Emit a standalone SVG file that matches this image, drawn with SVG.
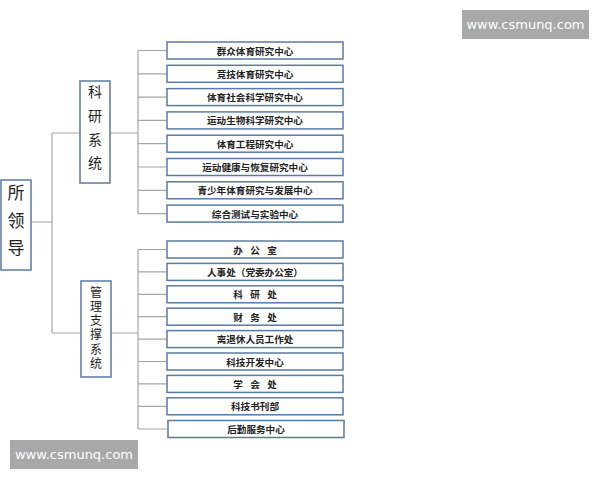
<svg xmlns="http://www.w3.org/2000/svg" width="600" height="480" viewBox="0 0 600 480">
<style>
.box{fill:#fff;stroke:#5b7aa1;stroke-width:1.5}
.ln{stroke:#a6a6a6;stroke-width:1.2;fill:none}
.t{font-family:"Noto Sans CJK SC","Noto Sans",sans-serif;font-size:9.6px;font-weight:bold;fill:#222;text-anchor:middle;dominant-baseline:central}
.v{font-family:"Noto Sans CJK SC","Noto Sans",sans-serif;fill:#222;writing-mode:vertical-rl;text-anchor:start}
.wm{fill:#a8a8a8}
.wt{font-family:"DejaVu Sans",sans-serif;font-size:13px;fill:#fff;text-anchor:middle;dominant-baseline:central}
</style>
<rect width="600" height="480" fill="#fff"/>
<g id="connectors">
<path class="ln" d="M31,222 H52 M52,133 V333 M52,133 H80 M52,333 H81"/>
<path class="ln" d="M110,133 H138 M138,50.5 V213.5"/>
<path class="ln" d="M138,50.5 H167 M138,73.8 H167 M138,97.1 H167 M138,120.4 H167 M138,143.7 H167 M138,167 H167 M138,190.3 H167 M138,213.6 H167"/>
<path class="ln" d="M111,333 H138 M138,249.5 V429"/>
<path class="ln" d="M138,249.5 H167 M138,271.9 H167 M138,294.3 H167 M138,316.7 H167 M138,339.1 H167 M138,361.5 H167 M138,383.9 H167 M138,406.3 H167 M138,429 H168"/>
</g>
<g id="leader"><rect class="box" x="1" y="180" width="30" height="90"/>
<text class="v" font-size="17" letter-spacing="10.5" x="16" y="184.5">所领导</text></g>
<g id="research"><rect class="box" x="80" y="81" width="30" height="102"/>
<text class="v" font-size="14" letter-spacing="9.7" x="95" y="85">科研系统</text></g>
<g id="management"><rect class="box" x="81" y="281" width="30" height="96"/>
<text class="v" font-size="12" letter-spacing="2.3" x="96" y="286">管理支撑系统</text></g>
<g id="r1"><rect class="box" x="167" y="42" width="176" height="17"/><text class="t" x="255" y="50.5">群众体育研究中心</text></g>
<g id="r2"><rect class="box" x="167" y="65.3" width="176" height="17"/><text class="t" x="255" y="73.8">竞技体育研究中心</text></g>
<g id="r3"><rect class="box" x="167" y="88.6" width="176" height="17"/><text class="t" x="255" y="97.1">体育社会科学研究中心</text></g>
<g id="r4"><rect class="box" x="167" y="111.9" width="176" height="17"/><text class="t" x="255" y="120.4">运动生物科学研究中心</text></g>
<g id="r5"><rect class="box" x="167" y="135.2" width="176" height="17"/><text class="t" x="255" y="143.7">体育工程研究中心</text></g>
<g id="r6"><rect class="box" x="167" y="158.5" width="176" height="17"/><text class="t" x="255" y="167">运动健康与恢复研究中心</text></g>
<g id="r7"><rect class="box" x="167" y="181.8" width="176" height="17"/><text class="t" x="255" y="190.3">青少年体育研究与发展中心</text></g>
<g id="r8"><rect class="box" x="167" y="205.1" width="176" height="17"/><text class="t" x="255" y="213.6">综合测试与实验中心</text></g>
<g id="m1"><rect class="box" x="167" y="241" width="176" height="17"/><text class="t" x="238 255 272" y="249.5">办公室</text></g>
<g id="m2"><rect class="box" x="167" y="263.4" width="176" height="17"/><text class="t" x="255" y="271.9">人事处（党委办公室）</text></g>
<g id="m3"><rect class="box" x="167" y="285.8" width="176" height="17"/><text class="t" x="238 255 272" y="294.3">科研处</text></g>
<g id="m4"><rect class="box" x="167" y="308.2" width="176" height="17"/><text class="t" x="238 255 272" y="316.7">财务处</text></g>
<g id="m5"><rect class="box" x="167" y="330.6" width="176" height="17"/><text class="t" x="255" y="339.1">离退休人员工作处</text></g>
<g id="m6"><rect class="box" x="167" y="353" width="176" height="17"/><text class="t" x="255" y="361.5">科技开发中心</text></g>
<g id="m7"><rect class="box" x="167" y="375.4" width="176" height="17"/><text class="t" x="238 255 272" y="383.9">学会处</text></g>
<g id="m8"><rect class="box" x="167" y="397.8" width="176" height="17"/><text class="t" x="255" y="406.3">科技书刊部</text></g>
<g id="m9"><rect class="box" x="168" y="420.5" width="176" height="17"/><text class="t" x="256" y="429">后勤服务中心</text></g>
<g id="wm1"><rect class="wm" x="462" y="10" width="127" height="29"/><text class="wt" x="525.5" y="24.5">www.csmunq.com</text></g>
<g id="wm2"><rect class="wm" x="10" y="440" width="128" height="29"/><text class="wt" x="74" y="454.5">www.csmunq.com</text></g>
</svg>
